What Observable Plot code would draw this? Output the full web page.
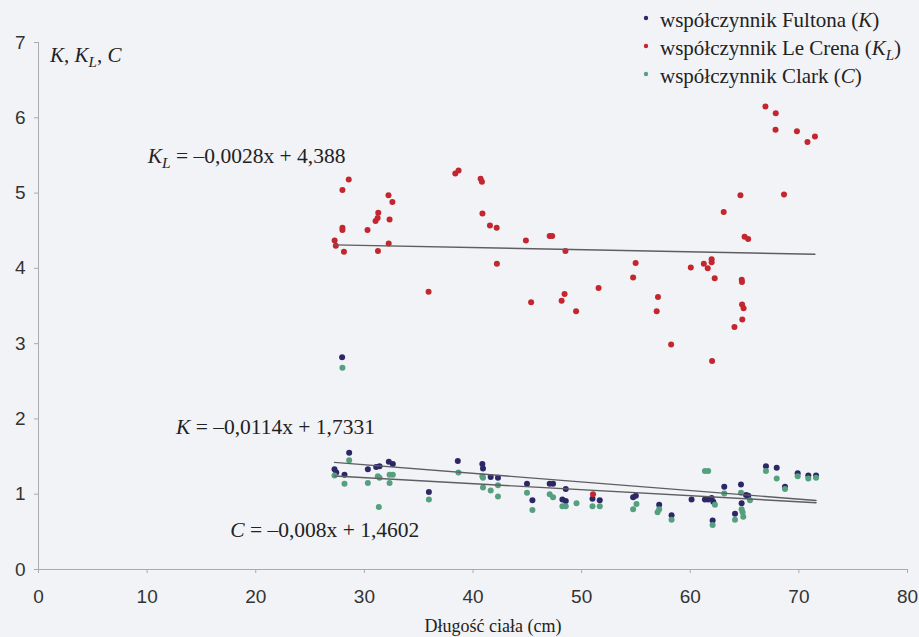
<!DOCTYPE html>
<html>
<head>
<meta charset="utf-8">
<script src="https://cdn.jsdelivr.net/npm/d3@7"></script>
<script src="https://cdn.jsdelivr.net/npm/@observablehq/plot@0.6"></script>
<style>
  html, body { margin: 0; padding: 0; background: #f2f3f6; }
  #chart svg { display: block; }
  #chart svg text.serif, #chart svg text.serif tspan { font-family: 'Liberation Serif', 'Times New Roman', serif; }
</style>
</head>
<body>
<div id="chart"></div>
<script>
// Body length (cm) and condition factors of individual fish
const fultonX = [27.25,27.41,28.17,28.6,27.95,30.32,31.09,31.4,32.25,32.62,35.94,38.6,40.86,40.92,41.63,42.3,44.97,45.47,47.06,47.37,48.54,48.23,48.54,51.0,51.67,54.74,54.99,57.14,58.28,60.12,61.35,61.65,61.97,62.12,62.06,63.13,64.67,64.73,64.12,65.13,65.34,66.97,67.96,68.72,69.89,70.87,71.58];
const fultonK = [1.33,1.29,1.26,1.55,2.82,1.33,1.36,1.37,1.43,1.40,1.03,1.44,1.40,1.34,1.23,1.22,1.14,0.92,1.14,1.14,1.07,0.93,0.91,0.94,0.92,0.96,0.98,0.86,0.72,0.93,0.93,0.93,0.95,0.90,0.65,1.10,1.13,0.88,0.74,0.99,0.98,1.37,1.35,1.10,1.28,1.25,1.25];

const leCrenX = [28.56,27.98,27.98,27.98,27.26,27.37,28.12,30.29,31.25,32.24,31.03,31.22,31.28,32.22,32.58,32.32,38.37,38.67,40.70,40.82,40.87,41.56,42.18,44.87,47.06,47.29,48.51,42.20,54.97,54.74,45.35,48.43,48.16,49.49,51.56,57.03,56.91,58.24,60.05,61.25,61.61,61.97,61.97,62.25,62.01,65.00,65.33,64.74,64.76,64.77,64.91,64.79,64.07,66.92,67.87,67.85,69.82,70.79,71.48,64.62,68.63,63.08,35.91,51.05];
const leCrenKL = [5.18,5.04,4.54,4.51,4.37,4.30,4.22,4.51,4.23,4.33,4.63,4.67,4.74,4.97,4.88,4.65,5.26,5.30,5.19,5.15,4.73,4.57,4.54,4.37,4.43,4.43,4.23,4.06,4.07,3.88,3.55,3.66,3.57,3.43,3.74,3.62,3.43,2.99,4.01,4.06,4.00,4.12,4.08,3.87,2.77,4.42,4.39,3.85,3.82,3.52,3.47,3.32,3.22,6.15,6.06,5.84,5.82,5.68,5.75,4.97,4.98,4.75,3.69,1.00];

const clarkX = [27.25,28.17,28.6,27.98,30.32,31.24,31.4,31.33,32.32,32.62,32.32,35.94,38.66,40.86,40.92,40.92,41.63,42.3,42.3,44.97,45.47,47.06,47.37,48.23,48.54,49.53,51.0,51.67,54.74,55.05,56.99,57.14,58.28,61.35,61.65,62.06,62.27,63.13,64.67,64.73,64.82,64.88,64.12,65.5,66.97,67.96,68.72,69.89,70.87,71.58];
const clarkC = [1.25,1.14,1.45,2.68,1.15,1.24,1.22,0.83,1.26,1.26,1.15,0.93,1.29,1.24,1.22,1.09,1.05,1.12,0.97,1.02,0.79,1.00,0.96,0.84,0.84,0.88,0.84,0.84,0.80,0.87,0.76,0.80,0.66,1.31,1.31,0.59,0.86,1.01,1.02,0.80,0.76,0.70,0.66,0.92,1.31,1.21,1.07,1.24,1.21,1.22];

// Linear trends printed on the chart
const seriesNames = ["K", "KL", "C"];
const trendSlopes = [-0.0114, -0.0028, -0.008];
const trendIntercepts = [1.7331, 4.388, 1.4602];

const xTicks = [0, 10, 20, 30, 40, 50, 60, 70, 80];
const yTicks = [0, 1, 2, 3, 4, 5, 6, 7];

const colors = { K: "#2c2868", KL: "#c3262e", C: "#55a07f" };

const toRows = (xs, ys, s) => xs.map((x, i) => ({ x, y: ys[i], s }));
const fultonRows = toRows(fultonX, fultonK, "K");
const leCrenRows = toRows(leCrenX, leCrenKL, "KL");
const clarkRows = toRows(clarkX, clarkC, "C");

const xsBySeries = { K: fultonX, KL: leCrenX, C: clarkX };
const trendRows = seriesNames.flatMap((s, i) =>
  d3.extent(xsBySeries[s]).map(x => ({ s, x, y: trendSlopes[i] * x + trendIntercepts[i] }))
);

const plot = Plot.plot({
  width: 919,
  height: 637,
  marginLeft: 38,
  marginRight: 12,
  marginTop: 42,
  marginBottom: 68,
  x: { domain: [0, 80], label: null },
  y: { domain: [0, 7], label: null },
  style: { background: "transparent", fontFamily: "'Liberation Sans', Arial, sans-serif", fontSize: "19px", color: "#333" },
  marks: [
    Plot.ruleY([0], { stroke: "#a9abb0" }),
    Plot.ruleX([0], { stroke: "#a9abb0" }),
    Plot.axisX({ ticks: xTicks, tickFormat: d => String(d), tickSize: 4, tickPadding: 16, stroke: "#a9abb0", fill: "#333", label: null, fontSize: 19 }),
    Plot.axisY({ ticks: yTicks, tickFormat: d => String(d), tickSize: 4, tickPadding: 9, stroke: "#a9abb0", fill: "#333", label: null, fontSize: 19 }),
    Plot.dot(fultonRows, { x: "x", y: "y", r: 3, fill: colors.K, stroke: "none" }),
    Plot.dot(leCrenRows, { x: "x", y: "y", r: 3, fill: colors.KL, stroke: "none" }),
    Plot.dot(clarkRows, { x: "x", y: "y", r: 3, fill: colors.C, stroke: "none" }),
    Plot.line(trendRows, { x: "x", y: "y", z: "s", stroke: "#5e5e62", strokeWidth: 1.4 })
  ]
});

document.getElementById("chart").appendChild(plot);

// Rich text with italic symbols and subscripts
const svg = d3.select(plot);
const xs = plot.scale("x"), ys = plot.scale("y");
function richText(x, y, parts, size, anchor = "start") {
  const t = svg.append("text")
    .attr("class", "serif")
    .attr("x", x).attr("y", y)
    .attr("text-anchor", anchor)
    .style("font-family", "'Liberation Serif', 'Times New Roman', serif")
    .style("font-size", size + "px")
    .attr("fill", "#222");
  let shifted = false;
  for (const p of parts) {
    const ts = t.append("tspan").text(p.t)
      .style("font-family", "'Liberation Serif', 'Times New Roman', serif");
    if (p.i) ts.style("font-style", "italic");
    if (p.sub) { ts.style("font-size", (size * 0.72) + "px").attr("dy", size * 0.22); shifted = true; }
    else if (shifted) { ts.attr("dy", -size * 0.22); shifted = false; }
  }
  return t;
}

// Axis titles
richText(50, 62, [{ t: "K", i: true }, { t: ", " }, { t: "K", i: true }, { t: "L", i: true, sub: true }, { t: ", " }, { t: "C", i: true }], 21);
richText(493, 632, [{ t: "Długość ciała (cm)" }], 18, "middle");

// Trend equations
richText(xs.apply(10.1), ys.apply(5.39), [{ t: "K", i: true }, { t: "L", i: true, sub: true }, { t: " = –0,0028x + 4,388" }], 21.5);
richText(xs.apply(12.7), ys.apply(1.79), [{ t: "K", i: true }, { t: " = –0,0114x + 1,7331" }], 21.5);
richText(xs.apply(17.7), ys.apply(0.425), [{ t: "C", i: true }, { t: " = –0,008x + 1,4602" }], 21.5);

// Legend
const legendItems = [
  { s: "K", parts: [{ t: "współczynnik Fultona (" }, { t: "K", i: true }, { t: ")" }] },
  { s: "KL", parts: [{ t: "współczynnik Le Crena (" }, { t: "K", i: true }, { t: "L", i: true, sub: true }, { t: ")" }] },
  { s: "C", parts: [{ t: "współczynnik Clark (" }, { t: "C", i: true }, { t: ")" }] }
];
legendItems.forEach((item, i) => {
  const base = 27 + i * 28;
  svg.append("circle").attr("cx", 646).attr("cy", base - 9).attr("r", 2.2).attr("fill", colors[item.s]);
  richText(660, base, item.parts, 21);
});
</script>
</body>
</html>
